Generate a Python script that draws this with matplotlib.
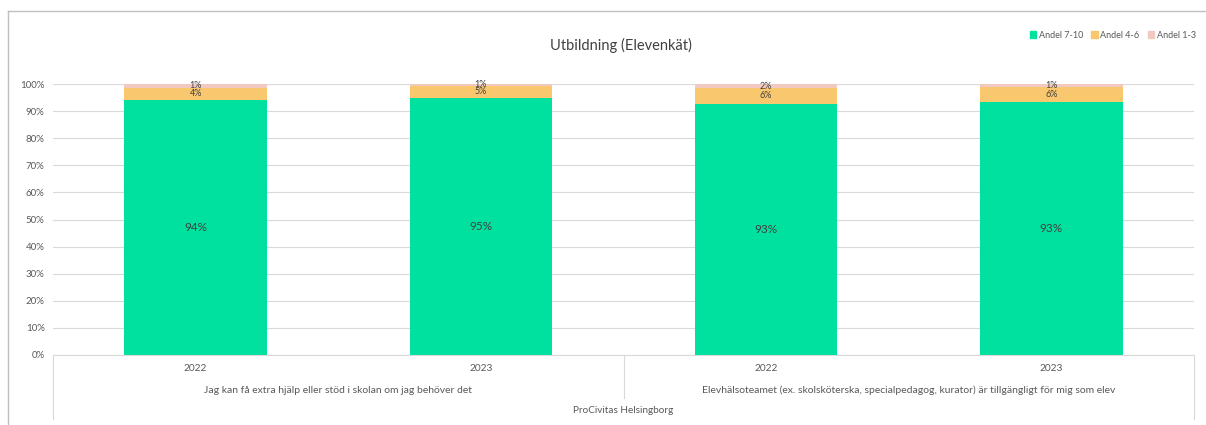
"""Stacked share chart: Utbildning (Elevenkät)."""

import matplotlib

matplotlib.use("Agg")
import matplotlib.pyplot as plt
from matplotlib.lines import Line2D

plt.rcParams["font.family"] = ["Lato", "DejaVu Sans"]

years = ["2022", "2023", "2022", "2023"]
questions = [
    "Jag kan få extra hjälp eller stöd i skolan om jag behöver det",
    "Elevhälsoteamet (ex. skolsköterska, specialpedagog, kurator) är tillgängligt för mig som elev",
]
school = "ProCivitas Helsingborg"
series_names = ["Andel 7-10", "Andel 4-6", "Andel 1-3"]
andel_7_10 = [94.2, 94.8, 92.8, 93.3]
andel_4_6 = [4.4, 4.6, 5.6, 5.6]
andel_1_3 = [1.4, 0.6, 1.6, 1.1]
colors = ["#00E09E", "#F9C76E", "#F2C9C0"]

W, H = 1206, 425
fig = plt.figure(figsize=(W / 100, H / 100), dpi=100)

x0, x1, y0, y1 = 53, 1194, 355, 84
ax = fig.add_axes([x0 / W, 1 - y0 / H, (x1 - x0) / W, (y0 - y1) / H])

x = list(range(len(years)))
bottom = [0.0] * len(x)
for i, (vals, col) in enumerate(zip([andel_7_10, andel_4_6, andel_1_3], colors)):
    ax.bar(x, vals, 0.5, bottom=bottom, color=col, zorder=2)
    for xi, b, v in zip(x, bottom, vals):
        ax.text(xi, b + v / 2, f"{int(v + 0.5)}%", ha="center", va="center",
                fontsize=8.5 if i == 0 else 6.5, color="#404040", zorder=3)
    bottom = [b + v for b, v in zip(bottom, vals)]

ax.set_xlim(-0.5, len(x) - 0.5)
ax.set_ylim(0, 100)
ax.set_yticks(range(0, 101, 10))
ax.set_yticklabels([f"{t}%" for t in range(0, 101, 10)])
ax.tick_params(axis="y", length=0, labelsize=7, labelcolor="#595959", pad=6)
ax.set_xticks([])
ax.grid(axis="y", color="#D9D9D9", linewidth=0.8, zorder=0)
for side in ["left", "right", "top"]:
    ax.spines[side].set_visible(False)
ax.spines["bottom"].set_color("#D9D9D9")

# multi-level category axis
sep = "#D9D9D9"
for xi, yr in zip(x, years):
    ax.text(xi, -4.8, yr, ha="center", va="center", fontsize=7.3, color="#595959",
            clip_on=False)
for qi, q in enumerate(questions):
    ax.text(qi * 2 + 0.5, -13, q, ha="center", va="center", fontsize=7.5, color="#595959",
            clip_on=False)
ax.text(1.5, -20.3, school, ha="center", va="center", fontsize=7.2, color="#595959",
        clip_on=False)
for xs, ylow in [(-0.5, -23.5), (1.5, -15.8), (3.5, -23.5)]:
    ax.add_line(Line2D([xs, xs], [0, ylow], color=sep, linewidth=0.8, clip_on=False))

# chart frame
fig.add_artist(Line2D([8 / W, 8 / W], [0, 1 - 11 / H], color="#BFBFBF", linewidth=1))
fig.add_artist(Line2D([8 / W, 1], [1 - 11 / H, 1 - 11 / H], color="#BFBFBF", linewidth=1))

fig.text(621 / W, 1 - 45 / H, "Utbildning (Elevenkät)", ha="center", va="center",
         fontsize=10.5, color="#404040")

handles = [plt.Rectangle((0, 0), 1, 1, color=c) for c in colors]
fig.legend(handles, series_names, loc="center right", bbox_to_anchor=(1204 / W, 1 - 35 / H),
           ncol=3, frameon=False, fontsize=6.5, handlelength=0.7, handleheight=0.7,
           handletextpad=0.3, columnspacing=0.9, labelcolor="#595959")

fig.savefig("out.png", dpi=100)
